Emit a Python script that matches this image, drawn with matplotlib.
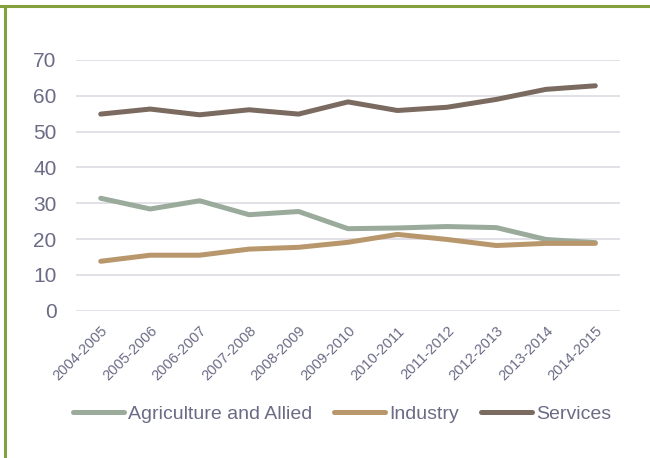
import matplotlib
matplotlib.use("Agg")
import matplotlib.pyplot as plt
from matplotlib.lines import Line2D

years = ["2004-2005", "2005-2006", "2006-2007", "2007-2008", "2008-2009", "2009-2010",
         "2010-2011", "2011-2012", "2012-2013", "2013-2014", "2014-2015"]
agriculture = [31.4, 28.4, 30.7, 26.8, 27.7, 22.9, 23.1, 23.5, 23.2, 19.9, 19.0]
industry = [13.8, 15.5, 15.5, 17.2, 17.7, 19.1, 21.3, 19.9, 18.2, 18.8, 18.8]
services = [54.9, 56.3, 54.7, 56.1, 54.9, 58.3, 55.9, 56.8, 59.0, 61.8, 62.8]
yticks = [0, 10, 20, 30, 40, 50, 60, 70]

plt.rcParams['font.family'] = ['Liberation Sans', 'DejaVu Sans']
txt = '#6b6b86'
c_agr = '#9aab9c'
c_ind = '#b8976c'
c_srv = '#7b6a60'

fig = plt.figure(figsize=(6.5, 4.58), dpi=100)
ax = fig.add_axes([76 / 650, 0.3216, 544 / 650, 0.5474])

x = list(range(len(years)))
lw = 3.6
ax.plot(x, agriculture, color=c_agr, lw=lw, solid_capstyle='round', solid_joinstyle='round', label='Agriculture and Allied', zorder=3)
ax.plot(x, industry, color=c_ind, lw=lw, solid_capstyle='round', solid_joinstyle='round', label='Industry', zorder=3)
ax.plot(x, services, color=c_srv, lw=lw, solid_capstyle='round', solid_joinstyle='round', label='Services', zorder=3)

ax.set_xlim(-0.5, len(years) - 0.5)
ax.set_ylim(0, 70)
ax.set_yticks(yticks)
ax.set_yticklabels([str(v) for v in yticks], fontsize=15, color=txt)
ax.set_xticks(x)
ax.set_xticklabels(years, rotation=45, ha='right', rotation_mode='anchor', fontsize=10.5, color=txt)
ax.tick_params(axis='both', length=0)
ax.tick_params(axis='y', pad=14)
ax.tick_params(axis='x', pad=9.5)
ax.yaxis.grid(True, color='#dcdce3', lw=1.2, zorder=0)
ax.set_axisbelow(True)
for s in ax.spines.values():
    s.set_visible(False)

handles, labels = ax.get_legend_handles_labels()
leg = fig.legend(handles, labels, loc='center', bbox_to_anchor=(342 / 650, 1 - 414 / 458),
                 ncol=3, frameon=False, fontsize=14, handlelength=2.63, handletextpad=0.2,
                 columnspacing=1.15, borderpad=0, borderaxespad=0)
for t in leg.get_texts():
    t.set_color(txt)

# green frame lines on top and left
fig.add_artist(Line2D([0, 1], [1 - 6 / 458, 1 - 6 / 458], transform=fig.transFigure, color='#84a03c', lw=2.2))
fig.add_artist(Line2D([5 / 650, 5 / 650], [0, 1 - 6 / 458], transform=fig.transFigure, color='#84a03c', lw=2.2))

fig.savefig('out.png', dpi=100)
